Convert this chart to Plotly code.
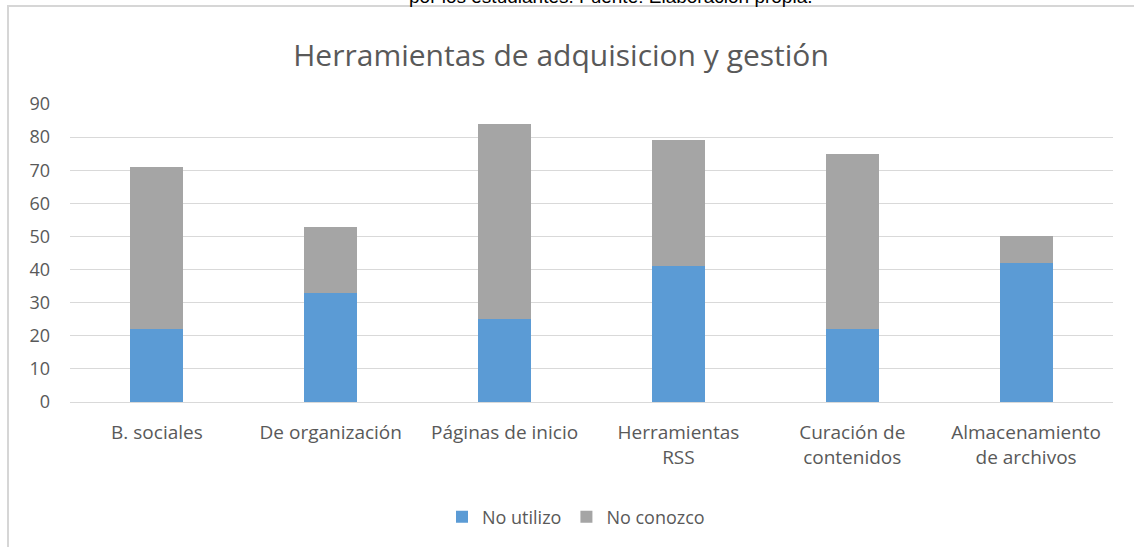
import plotly.graph_objects as go

categories = ["B. sociales", "De organización", "Páginas de inicio",
              "Herramientas<br>RSS", "Curación de<br>contenidos", "Almacenamiento<br>de archivos"]
no_utilizo = [22, 33, 25, 41, 22, 42]
no_conozco = [49, 20, 59, 38, 53, 8]
y_ticks = [0, 10, 20, 30, 40, 50, 60, 70, 80, 90]

W, H = 1134, 547
ML, MR, MT, MB = 70, 21, 104, 145
PW, PH = W - ML - MR, H - MT - MB

def px_x(px):
    return (px - ML) / PW

def px_y(py):
    return (H - MB - py) / PH

FONT = "Open Sans"
GREY = "#595959"

fig = go.Figure()
fig.add_trace(go.Bar(name="No utilizo", x=categories, y=no_utilizo,
                     marker=dict(color="#5B9BD5", line=dict(width=0))))
fig.add_trace(go.Bar(name="No conozco", x=categories, y=no_conozco,
                     marker=dict(color="#A5A5A5", line=dict(width=0))))

fig.update_layout(
    barmode="stack",
    bargap=0.695,
    width=W, height=H,
    margin=dict(l=ML, r=MR, t=MT, b=MB, pad=0, autoexpand=False),
    paper_bgcolor="white",
    plot_bgcolor="white",
    font=dict(family=FONT, color=GREY, size=18),
    title=dict(text="Herramientas de adquisicion y gestión",
               x=561 / W, xanchor="center",
               y=1 - 55 / H, yanchor="middle",
               font=dict(family=FONT, size=30, color=GREY)),
    showlegend=True,
    legend=dict(orientation="h", x=576 / W, xref="container", xanchor="center",
                y=1 - 517 / H, yref="container", yanchor="middle",
                font=dict(family=FONT, size=18, color=GREY),
                traceorder="normal", itemwidth=30),
    xaxis=dict(showgrid=False, showline=True, linecolor="#D9D9D9", linewidth=1,
               ticks="", ticklabelstandoff=13,
               tickfont=dict(family=FONT, size=19, color=GREY),
               fixedrange=True),
    yaxis=dict(range=[0, 90], tickvals=y_ticks, showgrid=True,
               gridcolor="#D9D9D9", gridwidth=1, zeroline=False,
               showline=False, ticks="", ticklabelstandoff=19,
               tickfont=dict(family=FONT, size=18, color=GREY),
               fixedrange=True),
    shapes=[
        dict(type="line", xref="paper", yref="paper",
             x0=px_x(7), x1=px_x(1134), y0=px_y(6), y1=px_y(6),
             line=dict(color="#D6D6D6", width=2)),
        dict(type="line", xref="paper", yref="paper",
             x0=px_x(8), x1=px_x(8), y0=px_y(6), y1=px_y(560),
             line=dict(color="#D6D6D6", width=2)),
    ],
    annotations=[
        dict(text="por los estudiantes. Fuente: Elaboración propia.",
             xref="paper", yref="paper", x=px_x(610), y=px_y(9),
             xanchor="center", yanchor="bottom", showarrow=False,
             font=dict(family="Liberation Sans", size=19, color="black")),
    ],
)

fig.write_html("out.html", config={"displayModeBar": False},
               post_script="document.body.style.margin='0';document.body.style.overflow='hidden';")
